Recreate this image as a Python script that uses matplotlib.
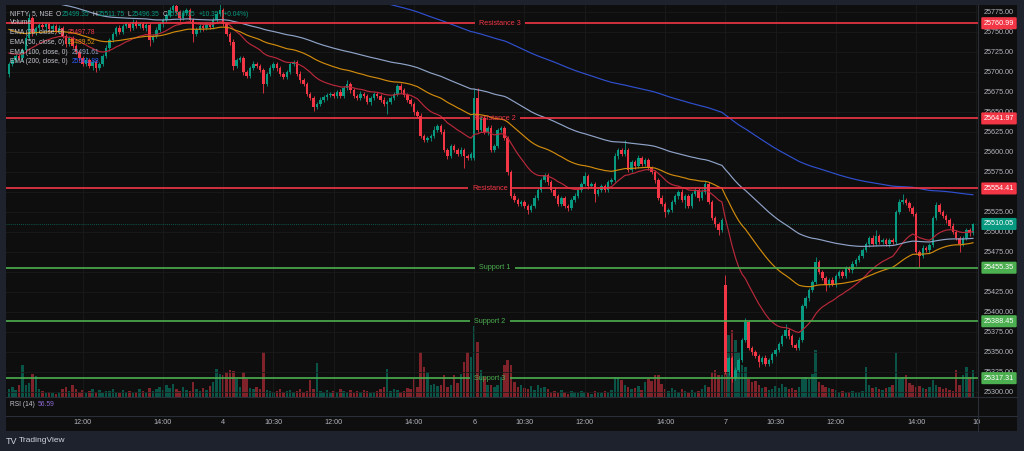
import numpy as np
import matplotlib.pyplot as plt
from matplotlib import transforms
from matplotlib.lines import Line2D

plt.rcParams['font.family'] = ['Liberation Sans', 'DejaVu Sans']

### data (NIFTY 5 min, four sessions: 3rd from 10:10, 4th, 6th, 7th)
day_open = [25697.5, 25777.5, 25592.5, 25433.75]

close_d3 = [25710, 25715, 25720, 25717.5, 25727.5, 25742.5, 25767.5, 25748.75, 25755, 25758.75,
            25756.25, 25760, 25753.75, 25757.5, 25751.25, 25755, 25745, 25735, 25742.5, 25732.5,
            25725, 25717.5, 25710, 25715, 25707.5, 25712.5, 25705, 25710, 25720, 25730,
            25740, 25747.5, 25755, 25750, 25757.5, 25760, 25755, 25762.5, 25757.5, 25760,
            25755, 25758.75, 25740, 25745, 25752.5, 25760, 25765, 25771.25, 25777.5, 25782.5,
            25775, 25767.5, 25773.75, 25777.5, 25765, 25747.5, 25752.5, 25757.5, 25755, 25760,
            25756.25, 25765, 25772.5, 25777.5]
close_d4 = [25760, 25747.5, 25737.5, 25707.5, 25715, 25717.5, 25700, 25695, 25705, 25710,
            25707.5, 25702.5, 25685, 25697.5, 25705, 25710, 25705, 25697.5, 25693.75, 25700,
            25710, 25712.5, 25697.5, 25690, 25685, 25672.5, 25667.5, 25656.25, 25660, 25665,
            25668.75, 25671.25, 25672.5, 25670, 25675, 25670, 25680, 25685, 25677.5, 25670,
            25667.5, 25672.5, 25670, 25662.5, 25667.5, 25672.5, 25670, 25665, 25660, 25662.5,
            25667.5, 25672.5, 25682.5, 25677.5, 25671.25, 25665, 25660, 25650, 25645, 25620,
            25615, 25617.5, 25620, 25627.5, 25632.5, 25625, 25602.5, 25595, 25607.5, 25602.5,
            25597.5, 25602.5, 25595, 25592.5, 25597.5]
close_d6 = [25667.5, 25627.5, 25642.5, 25625, 25630, 25602.5, 25607.5, 25627.5, 25630, 25617.5,
            25575, 25545, 25540, 25535, 25537.5, 25532.5, 25527.5, 25532.5, 25542.5, 25552.5,
            25565, 25571.25, 25562.5, 25552.5, 25545, 25535, 25542.5, 25532.5, 25530, 25540,
            25545, 25552.5, 25560, 25570, 25557.5, 25560, 25547.5, 25552.5, 25557.5, 25552.5,
            25562.5, 25565, 25595, 25602.5, 25597.5, 25602.5, 25577.5, 25587.5, 25582.5, 25592.5,
            25585, 25590, 25580, 25575, 25565, 25542.5, 25535, 25525, 25527.5, 25537.5,
            25545, 25550, 25540, 25545, 25532.5, 25547.5, 25552.5, 25542.5, 25550, 25560,
            25537.5, 25517.5, 25510, 25502.5, 25515]
close_d7 = [25325, 25342.5, 25317.5, 25327.5, 25340, 25365, 25387.5, 25355, 25350, 25345,
            25337.5, 25342.5, 25335, 25340, 25347.5, 25352.5, 25360, 25370, 25377.5, 25370,
            25358.75, 25355, 25365, 25407.5, 25417.5, 25427.5, 25437.5, 25462.5, 25450, 25442.5,
            25433.75, 25440, 25435, 25445, 25450, 25445, 25455, 25452.5, 25460, 25465,
            25470, 25477.5, 25485, 25492.5, 25485, 25495, 25487.5, 25490, 25485, 25490,
            25487.5, 25525, 25537.5, 25540, 25536.25, 25530, 25522.5, 25475, 25470, 25480,
            25477.5, 25483.75, 25517.5, 25533.75, 25525, 25520, 25515, 25507.5, 25500, 25492.5,
            25485, 25492.5, 25502.5, 25499.35, 25510.05]

# wick lengths above / below the body, in points
wick_up = [3,2,4,3,3,4,6,3,2,3, 4,2,3,2,3,4,2,3,2,3, 3,2,3,4,2,3,2,3,2,4, 3,3,2,4,3,2,3,4,2,3,
           2,3,3,2,4,3,2,3,4,5, 3,2,4,3,2,3,4,2,3,2, 3,4,3,8,
           3,2,3,4,2,3,2,3,3,4, 2,3,2,3,4,2,3,2,3,3, 2,3,2,4,3,2,3,2,3,4, 2,3,3,2,3,4,2,5,3,2,
           3,4,2,3,2,3,3,2,4,3, 2,3,2,4,3,2,3,2,3,4, 2,3,3,5,2,3,4,2,3,2, 3,4,2,3,3,
           11,12,3,2,3,4,2,3,3,2, 3,2,4,3,2,3,2,3,4,3, 2,3,3,2,4,3,2,3,2,3, 4,3,2,5,3,2,3,4,2,3,
           3,2,4,3,2,12,3,2,3,4, 2,3,2,3,3,2,4,3,2,3, 3,2,4,3,2,3,3,2,4,4, 3,2,3,2,3,
           12,3,2,4,3,2,5,3,2,3, 3,2,4,3,2,3,3,2,8,3, 2,3,4,2,3,3,2,6,3,2, 3,2,4,3,2,3,3,2,4,3,
           2,3,3,2,4,8,3,2,3,3, 2,3,4,8,3,2,3,3,2,4, 3,2,3,4,2,3,3,2,4,3, 2,3,3,2,1.7]
wick_dn = [4,3,2,3,4,3,2,4,3,2, 3,4,2,3,3,2,3,4,3,2, 3,4,3,2,3,5,5,3,2,3, 4,3,2,3,2,3,4,3,2,3,
           3,4,8,3,2,3,4,2,3,2, 3,4,3,2,3,10,3,2,4,3, 2,3,2,3,
           2,3,4,5,3,2,4,3,2,3, 3,2,11,3,2,3,4,2,3,2, 3,3,2,4,3,2,3,5,3,2, 3,4,2,3,2,3,3,2,4,3,
           2,3,3,2,4,3,2,3,3,12, 3,2,3,4,2,3,2,4,3,3, 2,3,4,2,3,3,2,4,3,2, 3,2,15,3,2,
           2,3,3,2,4,3,2,3,3,2, 4,3,2,3,2,3,5,3,2,3, 3,2,4,3,2,3,3,2,4,3, 2,3,3,2,4,3,10,3,2,3,
           3,2,3,4,2,3,3,2,4,3, 2,3,2,3,4,3,2,6,3,2, 3,4,2,10,3,2,3,4,2,3, 3,2,4,6,3,
           3,4,5,3,2,3,3,2,4,3, 6,3,2,3,4,2,3,3,2,4, 3,2,3,3,2,4,3,2,3,2, 8,3,2,4,3,3,2,3,4,2,
           3,3,2,4,3,2,3,3,2,4, 3,2,3,3,2,4,3,2,14,3, 2,4,3,3,2,3,4,2,3,3, 10,3,2,4,3]

volume = [8,10,7,12,32,12,14,23,21,8, 6,4,5,4,3,5,8,10,6,12, 8,5,7,4,6,8,5,7,4,6,
          6,8,5,4,7,5,6,4,5,8, 6,5,9,6,8,10,7,12,9,13, 8,6,10,7,6,15,8,6,9,7, 11,15,28,23,
          22,25,27,26,18,10,25,18,9,8, 10,8,45,7,6,5,6,8,5,6, 7,5,6,8,5,6,17,8,34,6,
          5,7,4,6,5,8,6,5,7,4, 6,5,7,6,4,5,6,8,10,28, 6,8,7,5,6,9,8,18,10,45,
          30,25,12,13,11,12,22,10,12,22, 14,23,35,45,40,
          71,55,27,20,12,12,10,12,20,32, 37,32,15,10,12,9,8,11,7,12, 9,10,8,5,6,4,7,5,3,6,
          5,4,6,5,4,3,6,5,4,6, 5,7,20,20,17,12,10,8,9,11, 7,15,18,16,22,22,13,8,6,9,
          7,5,8,6,4,7,5,6,8,12, 10,25,27,22,22,
          70,62,67,57,45,32,30,18,15,16, 12,9,10,7,8,11,9,13,10,8, 9,7,10,18,20,18,23,47,15,12,
          10,9,8,7,5,6,4,5,6,4, 5,6,30,12,9,10,8,7,9,10, 12,44,18,20,22,14,12,10,11,9,
          8,10,17,12,10,8,9,7,6,27, 12,22,30,20,27]

# EMA periods and their values just before the first visible bar
ema_periods = [20, 50, 100, 200]
ema_seed = [25725, 25755, 25800, 25940]
ema_colors = ['#b8283a', '#d08a0c', '#8fa3c8', '#2f50cf']

levels = [25760.99, 25641.97, 25554.41, 25455.35, 25388.45, 25317.31]
level_names = ['Resistance 3', 'Resistance 2', 'Resistance', 'Support 1', 'Support 2', 'Support 3']
last_price = 25510.05

time_idx = [22, 46, 64, 79, 97, 121, 139, 154, 172, 196, 214, 229, 247, 271, 289]
time_lbl = ['12:00', '14:00', '4', '10:30', '12:00', '14:00', '6', '10:30', '12:00', '14:00',
            '7', '10:30', '12:00', '14:00', '10']
price_ticks = list(range(25300, 25776, 25))
###

UP, DN = '#089981', '#f23645'
RES, SUP = '#f23645', '#4caf50'
TXT = '#b2b5be'
LBL = '#c3c6ce'
W, H = 1024, 451

# build OHLC
opens = []
for first, day in zip(day_open, [close_d3, close_d4, close_d6, close_d7]):
    prev = first
    for cl in day:
        opens.append(prev)
        prev = cl
o = np.array(opens)
c = np.array(close_d3 + close_d4 + close_d6 + close_d7)
hi = np.maximum(o, c) + np.array(wick_up)
lo = np.minimum(o, c) - np.array(wick_dn)
idx = np.arange(len(c))
up = c >= o
col = np.where(up, UP, DN)
body = c - o
body = np.where(np.abs(body) < 0.8, np.where(up, 0.8, -0.8), body)


def ema(values, period, seed):
    k = 2 / (period + 1)
    out = []
    e = seed
    for v in values:
        e = e + k * (v - e)
        out.append(e)
    return np.array(out)


fig = plt.figure(figsize=(W / 100, H / 100), dpi=100, facecolor='#1e222d')

panel = fig.add_axes([6 / W, 1 - 431 / H, 1011 / W, 426 / H])
panel.set_facecolor('#0e0e0e')
panel.set_xticks([])
panel.set_yticks([])
for s in panel.spines.values():
    s.set_visible(False)

rect = [6 / W, 1 - 397 / H, 972 / W, 392 / H]
axv = fig.add_axes(rect)
ax = fig.add_axes(rect, sharex=axv)
for a in (axv, ax):
    a.set_facecolor('none')
    a.tick_params(left=False, bottom=False, labelleft=False, labelbottom=False)
    for s in a.spines.values():
        s.set_visible(False)

ax.set_xlim(-0.9, 289.5)
ax.set_ylim(25293.75, 25783.75)
axv.set_ylim(0, 392)

# grid
for p in price_ticks:
    ax.axhline(p, color='#1b1b1b', lw=0.6, zorder=0)
for t in time_idx:
    ax.axvline(t, color='#1b1b1b', lw=0.6, zorder=0)

# volume
axv.bar(idx, volume, width=0.74, color=col, alpha=0.5, lw=0)

# candles
ax.vlines(idx, lo, hi, colors=col, lw=0.6, zorder=3)
ax.bar(idx, body, bottom=o, width=0.74, color=col, lw=0, zorder=4)

# EMAs
for per, seed, clr in zip(ema_periods, ema_seed, ema_colors):
    ax.plot(idx, ema(c, per, seed), color=clr, lw=0.85, zorder=5)

# last price
ax.axhline(last_price, color=UP, lw=0.6, ls=(0, (1, 1.5)), alpha=0.7, zorder=2)

# support / resistance drawings
label_at = [146.7, 145.2, 143.7, 145.2, 143.7, 143.7]
for lvl, name, at in zip(levels, level_names, label_at):
    clr = RES if name.startswith('Res') else SUP
    gap = (len(name) * 3.5 / 2 + 4) / 3.347
    ax.hlines(lvl, -0.9, at - gap, color=clr, lw=1.2, zorder=6)
    ax.hlines(lvl, at + gap, 289.5, color=clr, lw=1.2, zorder=6)
    ax.text(at, lvl, name, color=clr, fontsize=5.2, ha='center', va='center', zorder=7)

# price scale
ptr = transforms.blended_transform_factory(fig.transFigure, ax.transData)
tags = [(lvl, RES if n.startswith('Res') else SUP) for lvl, n in zip(levels, level_names)]
tags.append((last_price, UP))
for p in price_ticks:
    if min(abs(p - t[0]) for t in tags) < 7:
        continue
    ax.text(999 / W, p, f'{p:.2f}', transform=ptr, color=TXT, fontsize=5.2,
            ha='center', va='center', clip_on=False)
for lvl, clr in tags:
    ax.text(999 / W, lvl, f'{lvl:.2f}', transform=ptr, color='white', fontsize=5.2,
            ha='center', va='center', clip_on=False, zorder=10,
            bbox=dict(boxstyle='round,pad=0.35,rounding_size=0.15', fc=clr, ec='none'))

# time scale
ttr = transforms.blended_transform_factory(ax.transData, fig.transFigure)
for t, lab in zip(time_idx, time_lbl):
    ax.text(t, 1 - 423 / H, lab, transform=ttr, color=TXT, fontsize=5.2,
            ha='center', va='center', clip_on=False)

# pane separators
sep = '#2a2e39'
fig.add_artist(Line2D([978 / W, 978 / W], [1 - 431 / H, 1 - 5 / H], color=sep, lw=0.8))
for yy in (397, 416):
    fig.add_artist(Line2D([6 / W, 1017 / W], [1 - yy / H, 1 - yy / H], color=sep, lw=0.8))

# legend, laid out piece by piece
renderer = fig.canvas.get_renderer()


def row(x, y, parts, size=4.8):
    for s, clr, gap in parts:
        t = fig.text(x / W, 1 - y / H, s, color=clr, fontsize=size, va='center', ha='left')
        x += t.get_window_extent(renderer).width + gap


row(10, 14, [('NIFTY, 5, NSE', LBL, 3), ('O', LBL, 0.5), ('25499.35', UP, 3),
             ('H', LBL, 0.5), ('25511.75', UP, 3), ('L', LBL, 0.5), ('25496.35', UP, 3),
             ('C', LBL, 0.5), ('25510.05', UP, 3), ('+10.35', UP, 2.5), ('(+0.04%)', UP, 0)])
row(10, 23, [('Volume', LBL, 0)])
ema_rows = [('EMA (20, close, 0)', '25497.78', '#f23645'),
            ('EMA (50, close, 0)', '25489.52', '#e0930f'),
            ('EMA (100, close, 0)', '25491.61', '#8fa3c8'),
            ('EMA (200, close, 0)', '25541.88', '#2f5cff')]
for k, (lab, val, clr) in enumerate(ema_rows):
    row(10, 33 + k * 9.5, [(lab, LBL, 4), (val, clr, 0)])

row(10, 405, [('RSI (14)', LBL, 3), ('56.59', '#8e6bd6', 0)])
row(6, 441, [('TV', '#d1d4dc', 3)], size=6.5)
row(19, 441, [('TradingView', '#d1d4dc', 0)], size=6)

fig.savefig('out.png', dpi=100, facecolor=fig.get_facecolor())
